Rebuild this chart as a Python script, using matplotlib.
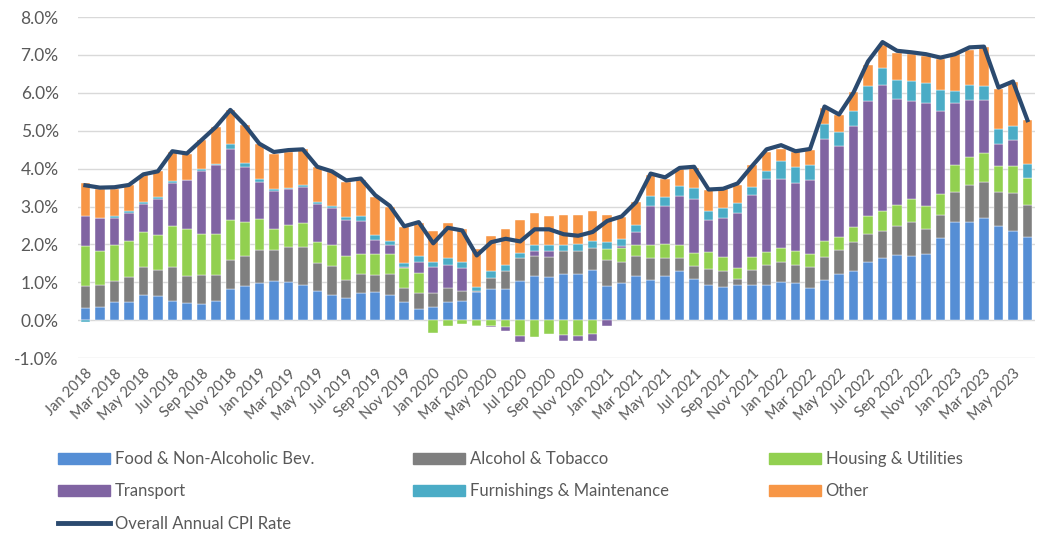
import numpy as np
import pandas as pd
import matplotlib
matplotlib.use("Agg")
import matplotlib.pyplot as plt
from matplotlib.patches import Patch
from matplotlib.lines import Line2D

# Monthly contributions to annual CPI (percentage points), Jan 2018 - Jun 2023
months = pd.date_range("2018-01-01", periods=66, freq="MS").strftime("%b %Y").tolist()

food = [0.33, 0.34, 0.47, 0.49, 0.67, 0.65, 0.51, 0.46, 0.43, 0.52, 0.83, 0.91,
        0.99, 1.03, 1.01, 0.93, 0.78, 0.67, 0.58, 0.71, 0.74, 0.67, 0.49, 0.30,
        0.36, 0.48, 0.50, 0.74, 0.83, 0.83, 1.04, 1.18, 1.14, 1.23, 1.22, 1.33,
        0.90, 0.99, 1.17, 1.07, 1.18, 1.31, 1.09, 0.94, 0.89, 0.93, 0.93, 0.93,
        1.01, 0.99, 0.85, 1.07, 1.22, 1.29, 1.53, 1.64, 1.73, 1.69, 1.75, 2.17,
        2.58, 2.60, 2.70, 2.49, 2.35, 2.20]
alcohol = [0.57, 0.59, 0.56, 0.64, 0.73, 0.67, 0.90, 0.72, 0.77, 0.68, 0.77, 0.78,
           0.86, 0.82, 0.92, 1.01, 0.73, 0.75, 0.48, 0.52, 0.46, 0.55, 0.36, 0.41,
           0.36, 0.38, 0.27, 0.04, 0.28, 0.48, 0.61, 0.51, 0.54, 0.60, 0.61, 0.58,
           0.68, 0.54, 0.52, 0.56, 0.47, 0.33, 0.34, 0.41, 0.42, 0.15, 0.39, 0.53,
           0.54, 0.47, 0.55, 0.60, 0.63, 0.77, 0.75, 0.71, 0.75, 0.90, 0.66, 0.60,
           0.81, 0.98, 0.95, 0.90, 1.01, 0.84]
housing = [1.05, 0.91, 0.96, 0.95, 0.93, 0.93, 1.07, 1.24, 1.07, 1.08, 1.05, 0.89,
           0.82, 0.55, 0.59, 0.62, 0.55, 0.57, 0.63, 0.52, 0.54, 0.54, 0.53, 0.55,
           -0.34, -0.14, -0.10, -0.14, -0.16, -0.18, -0.42, -0.44, -0.36, -0.38, -0.41, -0.36,
           0.29, 0.38, 0.29, 0.36, 0.36, 0.34, 0.34, 0.44, 0.35, 0.30, 0.35, 0.33,
           0.35, 0.37, 0.35, 0.43, 0.36, 0.39, 0.47, 0.52, 0.56, 0.62, 0.61, 0.55,
           0.70, 0.74, 0.77, 0.68, 0.71, 0.71]
transport = [0.80, 0.86, 0.71, 0.75, 0.74, 0.95, 1.14, 1.28, 1.68, 1.82, 1.86, 1.47,
             0.98, 1.00, 0.95, 0.96, 1.01, 0.97, 0.95, 0.86, 0.37, 0.22, 0.02, 0.29,
             0.68, 0.60, 0.61, -0.02, -0.03, -0.11, -0.16, 0.14, 0.15, -0.16, -0.15, -0.19,
             -0.14, 0.05, 0.35, 1.02, 1.00, 1.31, 1.44, 0.86, 1.05, 1.46, 1.63, 1.94,
             1.83, 1.80, 1.95, 2.69, 2.38, 2.68, 3.04, 3.34, 2.81, 2.58, 2.72, 2.21,
             1.65, 1.50, 1.38, 0.58, 0.68, 0.00]
furnishings = [-0.05, 0.00, 0.05, 0.06, 0.05, 0.06, 0.05, 0.00, 0.03, 0.03, 0.13, 0.11,
               0.08, 0.07, 0.03, 0.04, 0.05, 0.05, 0.09, 0.13, 0.13, 0.12, 0.12, 0.14,
               0.15, 0.18, 0.15, 0.11, 0.19, 0.15, 0.12, 0.15, 0.15, 0.15, 0.17, 0.19,
               0.19, 0.18, 0.19, 0.26, 0.24, 0.25, 0.28, 0.22, 0.24, 0.26, 0.22, 0.22,
               0.47, 0.42, 0.39, 0.39, 0.38, 0.39, 0.40, 0.44, 0.49, 0.51, 0.52, 0.54,
               0.32, 0.38, 0.38, 0.40, 0.37, 0.37]
other = [0.86, 0.77, 0.72, 0.67, 0.72, 0.68, 0.77, 0.70, 0.77, 0.96, 0.91, 0.99,
         0.92, 0.92, 0.94, 0.95, 0.93, 0.91, 0.92, 0.95, 1.01, 0.89, 0.93, 0.88,
         0.80, 0.93, 0.89, 0.99, 0.92, 0.96, 0.88, 0.84, 0.76, 0.81, 0.77, 0.78,
         0.71, 0.58, 0.60, 0.57, 0.49, 0.45, 0.53, 0.56, 0.51, 0.48, 0.57, 0.49,
         0.33, 0.39, 0.40, 0.42, 0.44, 0.49, 0.55, 0.62, 0.71, 0.72, 0.72, 0.82,
         0.96, 0.93, 1.02, 1.05, 1.16, 1.17]
cpi = [3.56, 3.50, 3.51, 3.57, 3.85, 3.93, 4.46, 4.40, 4.75, 5.10, 5.55, 5.15,
       4.66, 4.44, 4.49, 4.51, 4.05, 3.93, 3.69, 3.74, 3.30, 3.02, 2.48, 2.59,
       2.03, 2.44, 2.37, 1.71, 2.06, 2.15, 2.08, 2.40, 2.40, 2.27, 2.23, 2.33,
       2.62, 2.74, 3.12, 3.87, 3.77, 4.02, 4.05, 3.45, 3.47, 3.61, 4.07, 4.51,
       4.62, 4.46, 4.52, 5.64, 5.43, 6.01, 6.83, 7.34, 7.11, 7.07, 7.02, 6.93,
       7.02, 7.20, 7.22, 6.14, 6.30, 5.28]

series = [
    ("Food & Non-Alcoholic Bev.", food, "#558ED5"),
    ("Alcohol & Tobacco", alcohol, "#7F7F7F"),
    ("Housing & Utilities", housing, "#92D050"),
    ("Transport", transport, "#8064A2"),
    ("Furnishings & Maintenance", furnishings, "#4BACC6"),
    ("Other", other, "#F79646"),
]
line_color = "#2B4A6F"
text_color = "#595959"

plt.rcParams["font.family"] = ["Lato", "DejaVu Sans"]

fig = plt.figure(figsize=(10.42, 5.33), dpi=100)
ax = fig.add_axes([0.075, 0.328, 0.918, 0.640])

x = np.arange(len(months))
pos = np.zeros(len(x))
neg = np.zeros(len(x))
for name, vals, col in series:
    v = np.asarray(vals)
    bottom = np.where(v >= 0, pos, neg)
    ax.bar(x, v, 0.66, bottom=bottom, color=col, edgecolor="white",
           linewidth=0.3, zorder=2)
    pos = pos + np.clip(v, 0, None)
    neg = neg + np.clip(v, None, 0)

ax.plot(x, cpi, color=line_color, lw=3, zorder=3)

ax.set_xlim(-0.5, len(x) - 0.5)
ax.set_ylim(-1, 8)
ax.set_yticks(np.arange(-1, 9, 1))
ax.set_yticklabels(["{:.1f}%".format(t) for t in np.arange(-1, 9, 1)])
ax.set_xticks(x[::2])
ax.set_xticklabels(months[::2], rotation=45, ha="right", va="top",
                   rotation_mode="anchor")
ax.tick_params(axis="y", length=0, pad=14, colors=text_color, labelsize=12.5)
ax.tick_params(axis="x", length=0, pad=6, colors=text_color, labelsize=10.5)
ax.grid(axis="y", color="#D9D9D9", lw=1, zorder=0)
ax.set_axisbelow(True)
for s in ax.spines.values():
    s.set_visible(False)

# legend laid out in three columns, row-wise like the original
cols = [
    [Patch(color=series[0][2], label=series[0][0]),
     Patch(color=series[3][2], label=series[3][0]),
     Line2D([], [], color=line_color, lw=3.5, label="Overall Annual CPI Rate")],
    [Patch(color=series[1][2], label=series[1][0]),
     Patch(color=series[4][2], label=series[4][0])],
    [Patch(color=series[2][2], label=series[2][0]),
     Patch(color=series[5][2], label=series[5][0])],
]
for xpos, handles in zip([58, 413, 769], cols):
    fig.legend(handles=handles, loc="upper left",
               bbox_to_anchor=(xpos / 1042, 1 - 451 / 533),
               frameon=False, fontsize=12, labelcolor=text_color,
               handlelength=3.1, handleheight=0.66, handletextpad=0.3,
               labelspacing=0.98, borderpad=0, borderaxespad=0)

fig.savefig("out.png", dpi=100)
